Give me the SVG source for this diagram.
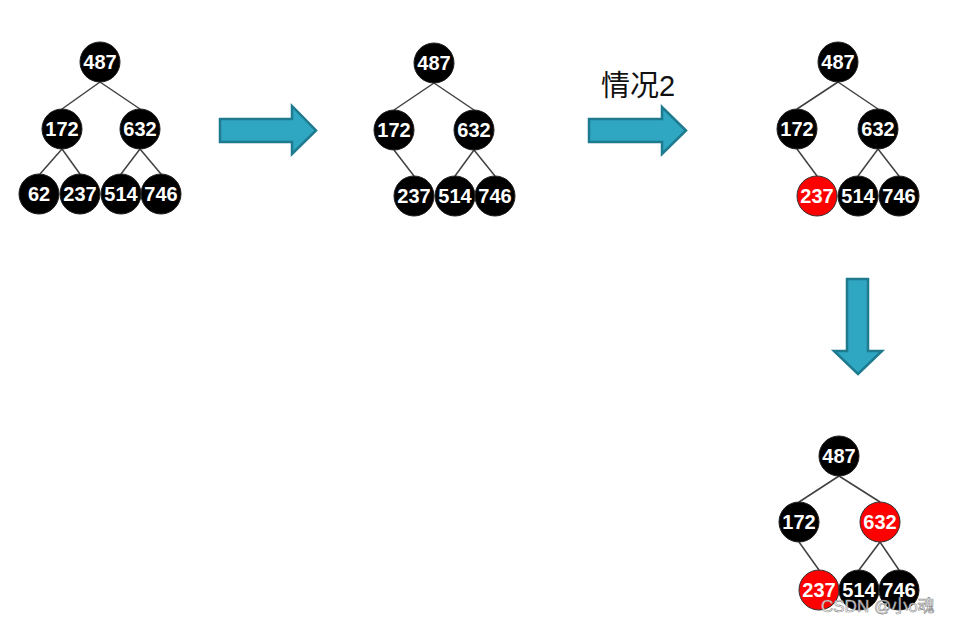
<svg xmlns="http://www.w3.org/2000/svg" width="960" height="624" viewBox="0 0 960 624">
<style>
.n circle{fill:#000;stroke:#222;stroke-width:1}
.n.r circle{fill:#ff0000;stroke:#333}
.n text{fill:#fff;font-family:"Liberation Sans",Arial,sans-serif;font-weight:bold;font-size:20px;text-anchor:middle;dominant-baseline:central}
.e line{stroke:#404040;stroke-width:1.5}
.arr{fill:#2fa7c2;stroke:#1e7a8e;stroke-width:2.5;stroke-linejoin:miter}
</style>
<rect width="960" height="624" fill="#fff"/>
<g id="connectors" class="e">
<line x1="100" y1="82" x2="62" y2="109"/><line x1="100" y1="82" x2="140" y2="109"/>
<line x1="62" y1="149" x2="40" y2="174"/><line x1="62" y1="149" x2="80" y2="174"/>
<line x1="140" y1="149" x2="121" y2="174"/><line x1="140" y1="149" x2="161" y2="174"/>
<line x1="434" y1="83" x2="394" y2="110"/><line x1="434" y1="83" x2="474" y2="110"/>
<line x1="394" y1="150" x2="414" y2="176"/>
<line x1="474" y1="150" x2="455" y2="176"/><line x1="474" y1="150" x2="495" y2="176"/>
<line x1="838" y1="82" x2="797" y2="109"/><line x1="838" y1="82" x2="878" y2="109"/>
<line x1="797" y1="149" x2="817" y2="176"/>
<line x1="878" y1="149" x2="858" y2="176"/><line x1="878" y1="149" x2="899" y2="176"/>
<line x1="839" y1="476" x2="799" y2="502"/><line x1="839" y1="476" x2="880" y2="502"/>
<line x1="799" y1="542" x2="819" y2="570"/>
<line x1="880" y1="542" x2="859" y2="570"/><line x1="880" y1="542" x2="899" y2="570"/>
</g>
<g id="t1-487" class="n"><circle cx="100" cy="62" r="20"/><text x="100" y="62">487</text></g>
<g id="t1-172" class="n"><circle cx="62" cy="129" r="20"/><text x="62" y="129">172</text></g>
<g id="t1-632" class="n"><circle cx="140" cy="129" r="20"/><text x="140" y="129">632</text></g>
<g id="t1-62" class="n"><circle cx="39" cy="194" r="20"/><text x="39" y="194">62</text></g>
<g id="t1-237" class="n"><circle cx="80" cy="194" r="20"/><text x="80" y="194">237</text></g>
<g id="t1-514" class="n"><circle cx="121" cy="194" r="20"/><text x="121" y="194">514</text></g>
<g id="t1-746" class="n"><circle cx="161" cy="194" r="20"/><text x="161" y="194">746</text></g>

<g id="t2-487" class="n"><circle cx="434" cy="63" r="20"/><text x="434" y="63">487</text></g>
<g id="t2-172" class="n"><circle cx="394" cy="130" r="20"/><text x="394" y="130">172</text></g>
<g id="t2-632" class="n"><circle cx="474" cy="130" r="20"/><text x="474" y="130">632</text></g>
<g id="t2-237" class="n"><circle cx="414" cy="196" r="20"/><text x="414" y="196">237</text></g>
<g id="t2-514" class="n"><circle cx="455" cy="196" r="20"/><text x="455" y="196">514</text></g>
<g id="t2-746" class="n"><circle cx="495" cy="196" r="20"/><text x="495" y="196">746</text></g>

<g id="t3-487" class="n"><circle cx="838" cy="62" r="20"/><text x="838" y="62">487</text></g>
<g id="t3-172" class="n"><circle cx="797" cy="129" r="20"/><text x="797" y="129">172</text></g>
<g id="t3-632" class="n"><circle cx="878" cy="129" r="20"/><text x="878" y="129">632</text></g>
<g id="t3-237" class="n r"><circle cx="817" cy="196" r="20"/><text x="817" y="196">237</text></g>
<g id="t3-514" class="n"><circle cx="858" cy="196" r="20"/><text x="858" y="196">514</text></g>
<g id="t3-746" class="n"><circle cx="899" cy="196" r="20"/><text x="899" y="196">746</text></g>

<g id="t4-487" class="n"><circle cx="839" cy="456" r="20"/><text x="839" y="456">487</text></g>
<g id="t4-172" class="n"><circle cx="799" cy="522" r="20"/><text x="799" y="522">172</text></g>
<g id="t4-632" class="n r"><circle cx="880" cy="522" r="20"/><text x="880" y="522">632</text></g>
<g id="t4-237" class="n r"><circle cx="819" cy="590" r="20"/><text x="819" y="590">237</text></g>
<g id="t4-514" class="n"><circle cx="859" cy="590" r="20"/><text x="859" y="590">514</text></g>
<g id="t4-746" class="n"><circle cx="899" cy="590" r="20"/><text x="899" y="590">746</text></g>

<g id="arrow1"><polygon class="arr" points="220,119 292,119 292,106 316,130.5 292,154 292,142 220,142"/></g>
<g id="arrow2"><polygon class="arr" points="589,119 662,119 662,107 686,130.5 662,154 662,142 589,142"/></g>
<g id="arrow3"><polygon class="arr" points="847,279 868,279 868,351 882,351 858,374 834,351 847,351"/></g>
<g id="label"><text x="601" y="96" font-family="'Liberation Sans','Noto Sans CJK SC',sans-serif" font-size="29" fill="#111">情况2</text></g>
<g id="watermark"><text x="821" y="612" font-family="'Liberation Sans','Noto Sans CJK SC',sans-serif" font-size="17" fill="#fff" fill-opacity="0.85" stroke="#888" stroke-width="0.6">CSDN @小o魂</text></g>
</svg>
